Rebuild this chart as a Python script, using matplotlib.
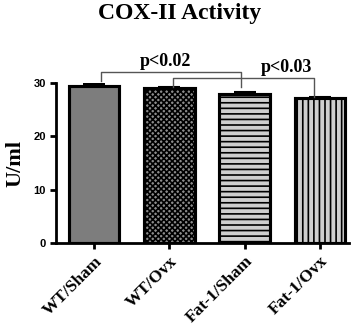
import matplotlib.pyplot as plt
import numpy as np

groups = ['WT/Sham', 'WT/Ovx', 'Fat-1/Sham', 'Fat-1/Ovx']
activity = [29.5, 29.0, 28.0, 27.1]
sem = [0.3, 0.3, 0.3, 0.35]
face = ['#7d7d7d', '#8c8c8c', '#cfcfcf', '#cfcfcf']
hatch = [None, 'xxxxxx', '---', '|||']
hatch_col = ['#999999', '#4a4a4a', '#a0a0a0', '#a0a0a0']

# significance brackets: (x_left, x_right, y_left, y_right, y_top, label)
brackets = [
    (0.09, 1.95, 30.4, 29.3, 32.0, 'p<0.02'),
    (1.05, 2.92, 29.3, 27.4, 30.9, 'p<0.03'),
]
label_x = [0.95, 2.55]

serif = ['Liberation Serif', 'DejaVu Serif']
sans = ['Liberation Sans', 'DejaVu Sans']

fig = plt.figure(figsize=(3.6, 3.28), dpi=100)
ax = fig.add_axes([0.156, 0.259, 0.813, 0.488])

x = np.arange(len(groups))
plt.rcParams['hatch.linewidth'] = 1.2
for i in x:
    plt.rcParams['hatch.color'] = hatch_col[i]
    ax.bar(i, activity[i], width=0.67, color=face[i], hatch=hatch[i],
           edgecolor='black', linewidth=2.2, zorder=2)
    ax.bar(i, activity[i], width=0.67, color='none', edgecolor='black',
           linewidth=2.2, zorder=3)
ax.errorbar(x, activity, yerr=[np.zeros(4), sem], fmt='none', ecolor='black',
            elinewidth=1.5, capsize=8, capthick=1.5, zorder=4)

for (xl, xr, yl, yr, yt, lab), lx in zip(brackets, label_x):
    ax.plot([xl, xl, xr, xr], [yl, yt, yt, yr], color='#555555', lw=1.0,
            clip_on=False, zorder=5)
    ax.text(lx, yt + 0.35, lab, ha='center', va='bottom', fontsize=13,
            fontweight='bold', family=serif, clip_on=False)

ax.set_xlim(-0.5, 3.38)
ax.set_ylim(0, 30)
ax.set_yticks([0, 10, 20, 30])
ax.set_xticks(x)
ax.set_xticklabels(groups, rotation=45, ha='right', rotation_mode='anchor',
                   fontsize=12.5, fontweight='bold', family=serif)
for t in ax.get_yticklabels():
    t.set_fontweight('bold')
    t.set_family(sans)
    t.set_fontsize(8)

for s in ['top', 'right']:
    ax.spines[s].set_visible(False)
for s in ['left', 'bottom']:
    ax.spines[s].set_linewidth(2)
ax.tick_params(width=2, length=4)

ax.set_ylabel('U/ml', fontsize=16, fontweight='bold', family=serif, labelpad=6)
fig.text(0.5, 0.96, 'COX-II Activity', ha='center', va='center',
         fontsize=17, fontweight='bold', family=serif)

fig.savefig('out.png', dpi=100)
